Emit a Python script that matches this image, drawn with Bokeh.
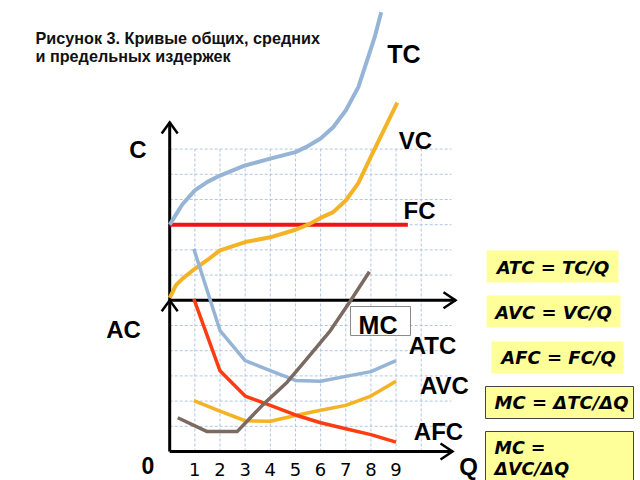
from bokeh.plotting import figure
from bokeh.embed import file_html
from bokeh.resources import INLINE
from bokeh.core.properties import value
from bokeh.models import Range1d

# ---------------- data (grid units) ----------------
# upper panel: total, variable and fixed cost (C measured from upper Q axis)
tc_q = [0, 0.25, 0.5, 1, 1.5, 2, 3, 4, 5, 5.5, 6, 6.5, 7, 7.5, 7.85, 8.15, 8.41]
tc_c = [3.0, 3.4, 3.8, 4.36, 4.7, 4.95, 5.35, 5.62, 5.88, 6.12, 6.42, 6.87, 7.53, 8.46, 9.52, 10.44, 11.43]
vc_q = [0, 0.25, 0.5, 1, 1.5, 2, 3, 4, 5, 5.5, 6, 6.5, 7, 7.5, 8, 8.5, 9.05]
vc_c = [0.1, 0.6, 0.85, 1.25, 1.6, 1.98, 2.31, 2.5, 2.8, 3.0, 3.27, 3.5, 3.96, 4.65, 5.7, 6.72, 7.84]
fc_q = [0, 9.47]
fc_c = [3.0, 3.0]

# lower panel: average and marginal costs
avg_q = [0.96, 2, 3, 4, 5, 6, 7, 8, 9]
atc = [8.04, 4.8, 3.61, 3.21, 2.82, 2.79, 2.98, 3.17, 3.61]
avc = [2.02, 1.6, 1.22, 1.2, 1.43, 1.64, 1.83, 2.2, 2.79]
afc = [6.06, 3.2, 2.2, 1.83, 1.45, 1.14, 0.9, 0.67, 0.37]
mc_q = [0.32, 1.49, 2.68, 3.68, 4.67, 5.47, 6.39, 7.15, 7.94]
mc = [1.34, 0.79, 0.79, 1.83, 2.75, 3.7, 4.8, 5.92, 7.13]

q_ticks = [1, 2, 3, 4, 5, 6, 7, 8, 9]
q_tick_labels = ["1", "2", "3", "4", "5", "6", "7", "8", "9"]

grid_q = [1, 2, 3, 4, 5, 6, 7, 8, 9, 10]
grid_y = [1, 2, 3, 4, 5, 7, 8, 9, 10, 11, 12]

formulas = ["ATC = TC/Q", "AVC = VC/Q", "AFC = FC/Q", "MC = \u0394TC/\u0394Q"]

# ---------------- layout helpers ----------------
X0, UX = 169.2, 25.15
Y0, UY = 451.0, 25.2
UPPER = 6  # upper panel origin, in grid units above the lower one


def sx(px):
    return (px - X0) / UX


def sy(py):
    return (Y0 - py) / UY


p = figure(width=640, height=480, x_range=Range1d(sx(0), sx(640)),
           y_range=Range1d(sy(480), sy(0)), output_backend="svg",
           toolbar_location=None, min_border=0, x_axis_type=None, y_axis_type=None)
p.grid.visible = False
p.outline_line_color = None
p.background_fill_color = "white"

# grid
gx_end = sx(451)
p.segment(x0=[0] * len(grid_y), y0=grid_y, x1=[gx_end] * len(grid_y), y1=grid_y,
          line_color="#b3c6e0", line_width=1, line_dash="3 2")
p.segment(x0=grid_q, y0=[0] * len(grid_q), x1=grid_q, y1=[12] * len(grid_q),
          line_color="#b3c6e0", line_width=1, line_dash="3 2")

# axes
ax_w = 3
ytop = sy(122)
p.line([0, 0], [0, ytop], line_color="black", line_width=ax_w)
xr_up = sx(455)
xr_lo = sx(452)
p.line([0, xr_up], [UPPER, UPPER], line_color="black", line_width=ax_w)
p.line([0, xr_lo], [0, 0], line_color="black", line_width=ax_w)
ax_dx = 8 / UX
ax_dy = 8 / UY
back_x = 12 / UX
back_y = 11 / UY
p.multi_line(
    xs=[[-ax_dx, 0, ax_dx], [-ax_dx, 0, ax_dx],
        [xr_up - back_x, xr_up, xr_up - back_x], [xr_lo - back_x, xr_lo, xr_lo - back_x]],
    ys=[[ytop - back_y, ytop, ytop - back_y], [UPPER - back_y, UPPER, UPPER - back_y],
        [UPPER + ax_dy, UPPER, UPPER - ax_dy], [ax_dy, 0, -ax_dy]],
    line_color="black", line_width=2.5, line_join="miter")

# upper curves
blue = "#95b4d6"
gold = "#f4b324"
p.line(fc_q, [c + UPPER for c in fc_c], line_color="#f01515", line_width=4)
p.line(tc_q, [c + UPPER for c in tc_c], line_color=blue, line_width=4, line_join="round")
p.line(vc_q, [c + UPPER for c in vc_c], line_color=gold, line_width=4, line_join="round")

# lower curves
p.line(avg_q, atc, line_color=blue, line_width=3.5, line_join="round")
p.line(avg_q, avc, line_color=gold, line_width=3.5, line_join="round")
p.line(avg_q, afc, line_color="#ff3c10", line_width=3.5, line_join="round")
p.line(mc_q, mc, line_color="#7b6a62", line_width=3.5, line_join="round")

# MC label box
p.quad(left=[sx(350)], right=[sx(410)], top=[sy(306)], bottom=[sy(335)],
       fill_color="white", line_color="#8a8a8a", line_width=1)

# curve & axis labels
lab_font = value("Liberation Sans")
labels = [("TC", 403.5, 53, "25px"), ("VC", 415, 140, "24px"), ("FC", 419, 210, "24px"),
          ("MC", 377.5, 324, "25px"), ("ATC", 432, 345, "24px"), ("AVC", 444, 385, "24px"),
          ("AFC", 438, 431, "24px"), ("C", 137.5, 148.5, "24px"), ("AC", 123, 329, "24px"),
          ("0", 147.5, 465, "23px"), ("Q", 468, 466, "24px")]
for t, x, y, fs in labels:
    p.text(x=[sx(x)], y=[sy(y)], text=[t], text_font=lab_font, text_font_style="bold",
           text_font_size=fs, text_align="center", text_baseline="middle", text_color="black")

# Q tick labels
p.text(x=q_ticks, y=[sy(469)] * len(q_ticks), text=q_tick_labels, text_font=value("DejaVu Sans"),
       text_font_size="18px", text_align="center", text_baseline="middle", text_color="black")

# title
p.text(x=[sx(35), sx(35)], y=[sy(37), sy(55)],
       text=["Рисунок 3. Кривые общих, средних", "и предельных издержек"],
       text_font=lab_font, text_font_style="bold", text_font_size="16.2px",
       text_align="left", text_baseline="alphabetic", text_color="#111111")

# formula boxes
yel = "#ffff99"
boxes = [(486, 618, 250, 282, None), (486, 620, 295, 327, None), (491, 623, 341, 373, None),
         (485, 633, 386, 418, "#444444"), (485, 633, 431, 490, "#444444")]
for l, r, t, b, lc in boxes:
    p.quad(left=[sx(l)], right=[sx(r)], top=[sy(t)], bottom=[sy(b)], fill_color=yel,
           line_color=lc, line_width=1)
f_font = value("DejaVu Sans")
f_pos = [(552.5, 267), (553, 312), (558, 357), (561, 402)]
for txt, (x, y) in zip(formulas, f_pos):
    p.text(x=[sx(x)], y=[sy(y)], text=[txt], text_font=f_font, text_font_style="bold italic",
           text_font_size="18px", text_align="center", text_baseline="middle", text_color="black")
p.text(x=[sx(494), sx(494)], y=[sy(447), sy(468)], text=["MC =", "\u0394VC/\u0394Q"],
       text_font=f_font, text_font_style="bold italic", text_font_size="17.5px",
       text_align="left", text_baseline="middle", text_color="black")

open("out.html", "w").write(file_html(p, INLINE))
